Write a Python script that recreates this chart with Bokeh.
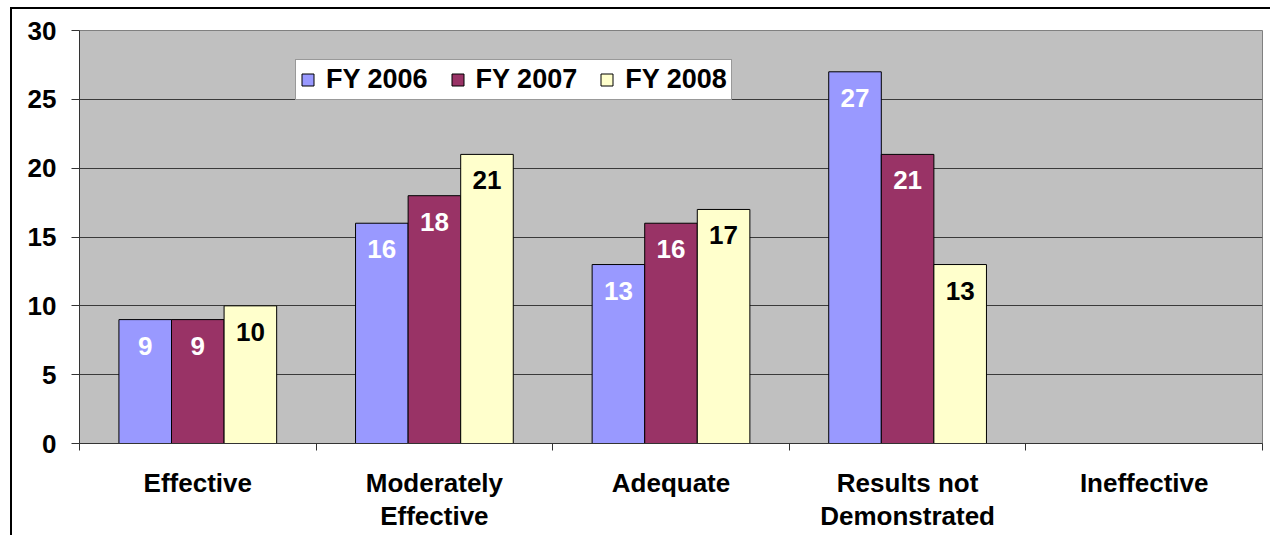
from bokeh.plotting import figure
from bokeh.models import ColumnDataSource, FixedTicker, Legend, LegendItem
from bokeh.core.properties import value
from bokeh.embed import file_html
from bokeh.resources import INLINE

categories = ["Effective", "Moderately\nEffective", "Adequate", "Results not\nDemonstrated", "Ineffective"]
fy2006 = [9, 16, 13, 27, None]
fy2007 = [9, 18, 16, 21, None]
fy2008 = [10, 21, 17, 13, None]
series_names = ["FY 2006", "FY 2007", "FY 2008"]
series_colors = ["#9999FF", "#993366", "#FFFFCC"]
label_colors = ["white", "white", "black"]
y_ticks = [0, 5, 10, 15, 20, 25, 30]

FONT = "Liberation Sans"
bar_w = 1 / 4.5
offsets = [-bar_w, 0.0, bar_w]

p = figure(frame_width=1183, frame_height=413, x_range=(0, len(categories)), y_range=(0, 30),
           output_backend="svg", toolbar_location=None,
           min_border_left=69, min_border_right=8, min_border_top=23, min_border_bottom=92)
p.margin = (7, 0, 0, 10)
p.styles = {"box-shadow": "inset 2px 2px 0 0 black"}
p.background_fill_color = "#C0C0C0"
p.border_fill_color = "white"
p.border_fill_alpha = 0.0
p.outline_line_color = "#808080"
p.outline_line_width = 1

p.xgrid.visible = False
p.ygrid.grid_line_color = "#3a3a3a"
p.ygrid.grid_line_width = 1
p.ygrid.ticker = FixedTicker(ticks=y_ticks)

items = []
for i, (vals, name, col, lc) in enumerate(zip([fy2006, fy2007, fy2008], series_names, series_colors, label_colors)):
    xs = [k + 0.5 + offsets[i] for k in range(len(categories)) if vals[k] is not None]
    ys = [v for v in vals if v is not None]
    src = ColumnDataSource(dict(x=xs, top=ys, lab=[str(v) for v in ys]))
    r = p.vbar(x="x", top="top", bottom=0, width=bar_w, source=src,
               fill_color=col, line_color="black", line_width=1)
    p.text(x="x", y="top", text="lab", source=src, text_color=lc,
           text_font=value(FONT), text_font_style="bold", text_font_size="26px",
           text_align="center", text_baseline="middle", y_offset=26)
    items.append(LegendItem(label=name, renderers=[r]))

legend = Legend(items=items, orientation="horizontal", location=(216, 343),
                glyph_width=15, glyph_height=15, label_standoff=11, spacing=22,
                padding=4, margin=0,
                label_text_font=FONT, label_text_font_style="bold", label_text_font_size="27px",
                label_text_color="black",
                border_line_color="#333333", border_line_width=1,
                background_fill_color="white", background_fill_alpha=1.0)
p.add_layout(legend)

# y axis
ya = p.yaxis[0]
ya.ticker = FixedTicker(ticks=y_ticks)
ya.major_label_text_font = FONT
ya.major_label_text_font_style = "bold"
ya.major_label_text_font_size = "26px"
ya.major_label_text_color = "black"
ya.major_tick_out = 8
ya.major_tick_in = 0
ya.major_tick_line_color = "#333333"
ya.minor_tick_line_color = None
ya.axis_line_color = "#333333"
ya.major_label_standoff = 15

# x axis
xa = p.xaxis[0]
xa.ticker = FixedTicker(ticks=[k + 0.5 for k in range(len(categories))],
                        minor_ticks=list(range(len(categories) + 1)))
xa.major_label_overrides = {k + 0.5: c for k, c in enumerate(categories)}
xa.major_label_text_font = FONT
xa.major_label_text_font_style = "bold"
xa.major_label_text_font_size = "26px"
xa.major_label_text_color = "black"
xa.major_label_text_line_height = 1.13
xa.major_tick_out = 0
xa.major_tick_in = 0
xa.minor_tick_out = 7
xa.minor_tick_in = 0
xa.minor_tick_line_color = "#333333"
xa.axis_line_color = "#333333"
xa.major_label_standoff = 17

open("out.html", "w").write(file_html(p, INLINE))
